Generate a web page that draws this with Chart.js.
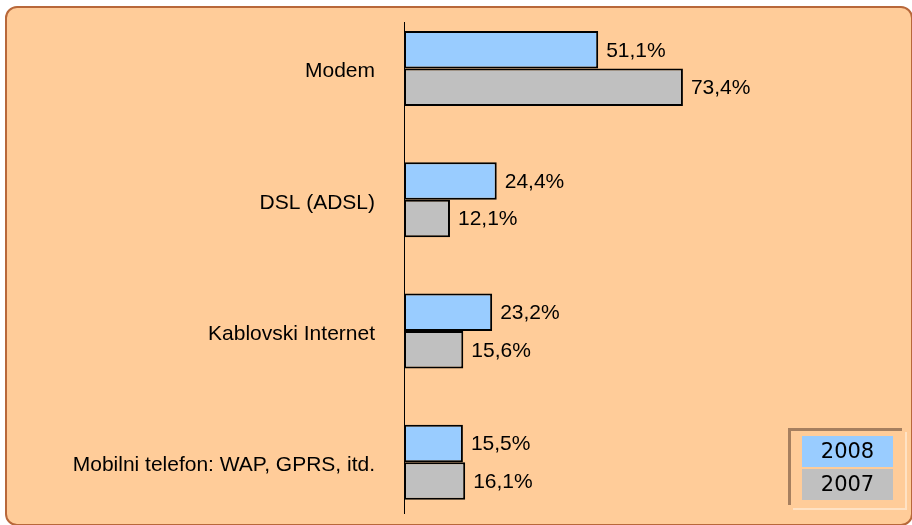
<!DOCTYPE html>
<html>
<head>
<meta charset="utf-8">
<script src="https://cdn.jsdelivr.net/npm/chart.js@4"></script>
<style>
  html, body { margin: 0; padding: 0; background: #fff; overflow: hidden; }
  #wrap { position: relative; width: 912px; height: 525px; overflow: hidden; }
  #frame {
    position: absolute; left: 5px; top: 6px; width: 904px; height: 516px;
    background: #FFCC99; border: 2px solid #B8683A; border-radius: 12px;
  }
  #chartBox { position: absolute; left: 0; top: 0; width: 912px; height: 560px; }
  #legend { position: absolute; left: 788px; top: 428px; width: 118px; height: 80px; }
  #legend .shadowTop { position: absolute; left: 0; top: 0; width: 114px; height: 3px; background: #A67F5F; }
  #legend .shadowLeft { position: absolute; left: 0; top: 0; width: 3px; height: 77px; background: #A67F5F; }
  #legend .lightRight { position: absolute; left: 117px; top: 4px; width: 2px; height: 77px; background: #FFE2C4; }
  #legend .lightBottom { position: absolute; left: 5px; top: 80px; width: 114px; height: 2px; background: #FFE2C4; }
  #legend .item {
    position: absolute; left: 14px; width: 91px; height: 31px;
    font: 21px "DejaVu Sans", sans-serif; color: #000; text-align: center; line-height: 31px;
  }
</style>
</head>
<body>
<div id="wrap">
  <div id="frame"></div>
  <div id="chartBox"><canvas id="chart" width="912" height="560"></canvas></div>
  <div id="legend">
    <div class="shadowTop"></div>
    <div class="shadowLeft"></div>
    <div class="lightRight"></div>
    <div class="lightBottom"></div>
    <div class="item" id="leg0" style="top:8px;"></div>
    <div class="item" id="leg1" style="top:41px;"></div>
  </div>
</div>
<script>
// ================================
// DATA
// ================================
const categories = ["Modem", "DSL (ADSL)", "Kablovski Internet", "Mobilni telefon: WAP, GPRS, itd."];
const seriesNames = ["2008", "2007"];
const values2008 = [51.1, 24.4, 23.2, 15.5];
const values2007 = [73.4, 12.1, 15.6, 16.1];
const seriesColors = ["#99CCFF", "#C0C0C0"];

// legend (html)
document.getElementById("leg0").innerText = seriesNames[0];
document.getElementById("leg0").style.background = seriesColors[0];
document.getElementById("leg1").innerText = seriesNames[1];
document.getElementById("leg1").style.background = seriesColors[1];

Chart.defaults.font.family = "'Liberation Sans', Arial, sans-serif";
Chart.defaults.color = "#000";

// ================================
// VALUE LABELS + AXIS LINE
// ================================
const valueLabels = {
  id: "valueLabels",
  afterDatasetsDraw(chart) {
    const ctx = chart.ctx;
    ctx.save();
    ctx.font = "21px 'Liberation Sans', Arial, sans-serif";
    ctx.fillStyle = "#000";
    ctx.textAlign = "left";
    ctx.textBaseline = "middle";
    chart.data.datasets.forEach((ds, i) => {
      chart.getDatasetMeta(i).data.forEach((bar, j) => {
        const txt = ds.data[j].toFixed(1).replace(".", ",") + "%";
        ctx.fillText(txt, bar.x + 8, bar.y + 1);
      });
    });

    // vertical axis line
    const x0 = Math.round(chart.scales.x.getPixelForValue(0)) + 0.5;
    ctx.strokeStyle = "#000";
    ctx.lineWidth = 1;
    ctx.beginPath();
    ctx.moveTo(x0, 22);
    ctx.lineTo(x0, 514);
    ctx.stroke();
    ctx.restore();
  }
};

new Chart(document.getElementById("chart"), {
  type: "bar",
  data: {
    labels: categories,
    datasets: [
      {
        label: seriesNames[0],
        data: values2008,
        backgroundColor: seriesColors[0],
        borderColor: "#000",
        borderWidth: 2,
        borderSkipped: false
      },
      {
        label: seriesNames[1],
        data: values2007,
        backgroundColor: seriesColors[1],
        borderColor: "#000",
        borderWidth: 2,
        borderSkipped: false
      }
    ]
  },
  options: {
    indexAxis: "y",
    responsive: false,
    animation: false,
    layout: { padding: { top: 2.9, bottom: 32.1, left: 0, right: 128 } },
    datasets: { bar: { categoryPercentage: 0.571, barPercentage: 1 } },
    plugins: {
      legend: { display: false },
      tooltip: { enabled: false }
    },
    scales: {
      x: {
        display: false,
        min: 0,
        max: 100
      },
      y: {
        grid: { display: false, drawTicks: false },
        border: { display: false },
        ticks: {
          padding: 29,
          labelOffset: 3,
          font: { size: 21 },
          color: "#000"
        },
        afterFit(scale) {
          scale.width = 404;
          scale.paddingTop = 0;
          scale.paddingBottom = 0;
        }
      }
    }
  },
  plugins: [valueLabels]
});
</script>
</body>
</html>
